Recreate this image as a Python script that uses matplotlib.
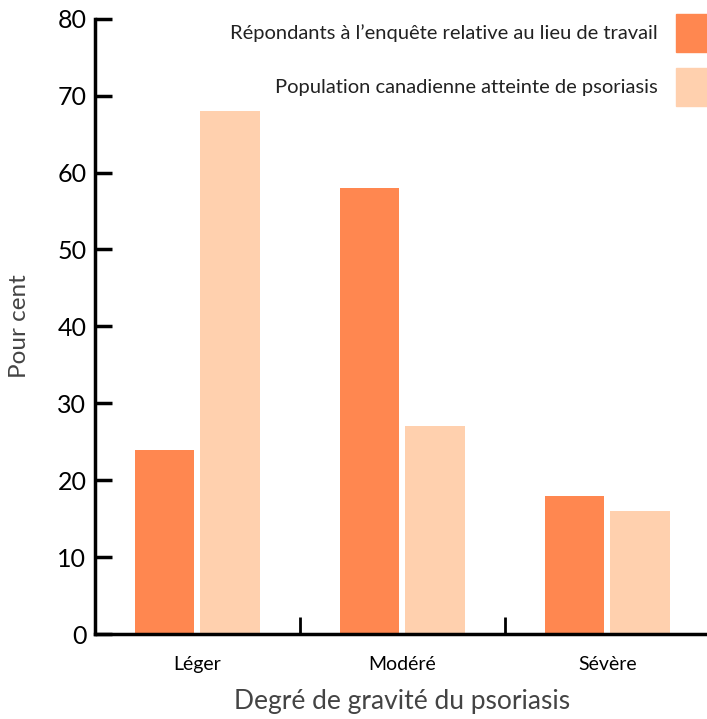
import numpy as np
import matplotlib.pyplot as plt
from matplotlib.patches import Rectangle

plt.rcParams['font.family'] = ['Lato', 'DejaVu Sans']

categories = ["Léger", "Modéré", "Sévère"]
workplace = [24, 58, 18]
population = [68, 27, 16]
series_names = ["Répondants à l’enquête relative au lieu de travail",
                "Population canadienne atteinte de psoriasis"]
colors = ["#FF8750", "#FFD0AE"]
yticks = [0, 10, 20, 30, 40, 50, 60, 70, 80]

fig = plt.figure(figsize=(7.07, 7.19), dpi=100)
ax = fig.add_axes([0.134, 0.118, 0.87, 0.856])

x = np.arange(len(categories))
w = 0.29
ax.bar(x - 0.16, workplace, w, color=colors[0])
ax.bar(x + 0.16, population, w, color=colors[1])

ax.set_xlim(-0.5, 2.5)
ax.set_ylim(0, 80)
ax.set_yticks(yticks)
ax.tick_params(axis='y', labelsize=18, length=12, width=2.5, direction='in', pad=6)
ax.set_xticks(x)
ax.set_xticklabels(categories, fontsize=14)
ax.tick_params(axis='x', which='major', length=0, pad=16)
ax.set_xticks([0.5, 1.5], minor=True)
ax.tick_params(axis='x', which='minor', length=12, width=2, direction='in')

for s in ['top', 'right']:
    ax.spines[s].set_visible(False)
ax.spines['left'].set_linewidth(2.5)
ax.spines['bottom'].set_linewidth(2.5)

ax.set_ylabel("Pour cent", fontsize=17.5, color="#444444", va='center')
ax.yaxis.set_label_coords(-0.122, 0.5)
ax.set_xlabel("Degré de gravité du psoriasis", fontsize=19, color="#444444", va='center')
ax.xaxis.set_label_coords(0.5, -0.11)

# legend drawn as right-aligned text next to colored squares
ys = [33, 87]
for name, col, yp in zip(series_names, colors, ys):
    fig.text(658 / 707, 1 - yp / 719, name, ha='right', va='center', fontsize=14.5, color="#222222")
    fig.patches.append(Rectangle((676 / 707, 1 - (yp + 19) / 719), 31 / 707, 38 / 719,
                                 transform=fig.transFigure, color=col))

fig.savefig("out.png", dpi=100)
